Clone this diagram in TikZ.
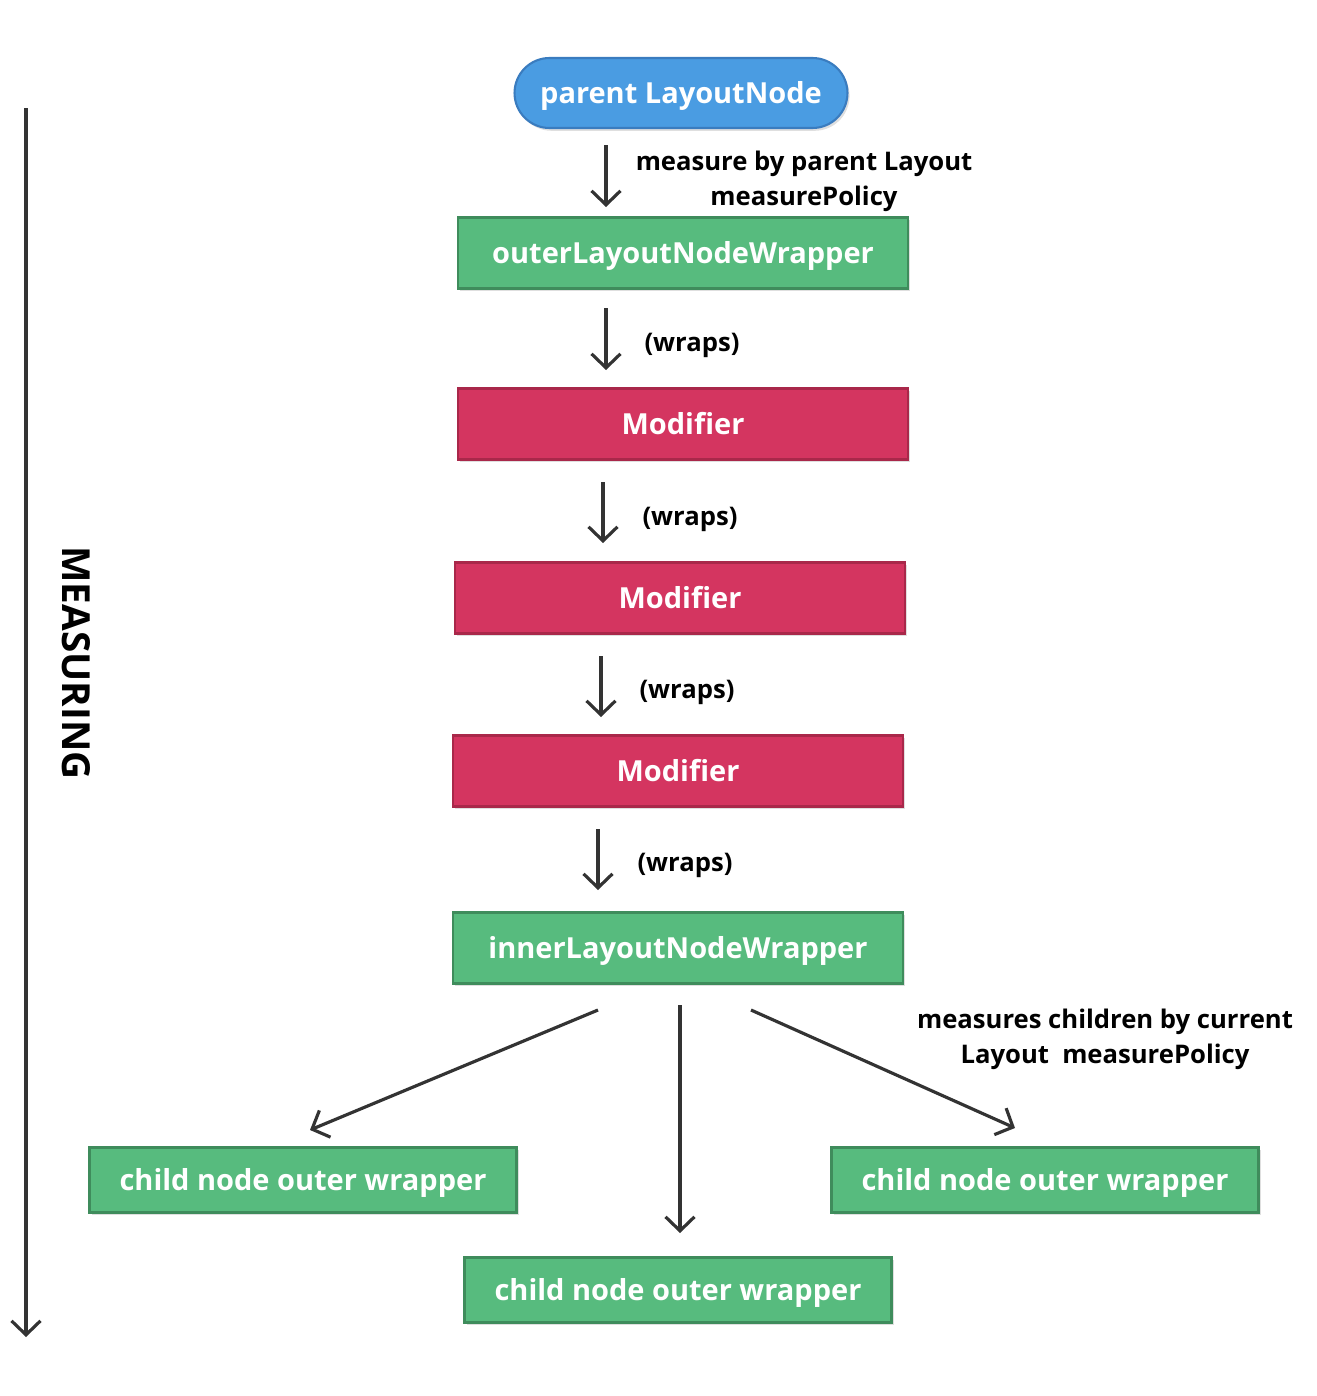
\documentclass[tikz,border=0pt]{standalone}
\usepackage{fontspec}
\setmainfont{Open Sans}
\usetikzlibrary{arrows.meta,shadows}

\definecolor{nodeblue}{HTML}{4A9CE2}
\definecolor{nodeblueline}{HTML}{3A7CBF}
\definecolor{wrapgreen}{HTML}{57BB7E}
\definecolor{wrapgreenline}{HTML}{3F8C5C}
\definecolor{modred}{HTML}{D43560}
\definecolor{modredline}{HTML}{A9284A}
\definecolor{arrowgray}{HTML}{333333}

\tikzset{
  boxbase/.style={draw,line width=1.2pt,text=white,font=\bfseries\fontsize{16.5}{20}\selectfont,
    drop shadow={shadow xshift=1.2pt,shadow yshift=-1.6pt,opacity=0.25}},
  lowtext/.style={text height=12.4pt,text depth=1pt},
  wrapbox/.style={boxbase,lowtext,fill=wrapgreen,draw=wrapgreenline,minimum width=9cm,minimum height=1.42cm},
  modbox/.style={boxbase,fill=modred,draw=modredline,minimum width=9cm,minimum height=1.42cm},
  childbox/.style={boxbase,lowtext,fill=wrapgreen,draw=wrapgreenline,minimum width=8.54cm,minimum height=1.3cm},
  pillbox/.style={boxbase,lowtext,fill=nodeblue,draw=nodeblueline,rounded corners=0.7cm,minimum width=6.66cm,minimum height=1.4cm},
  flow/.style={draw=arrowgray,line width=1.8pt,-{Straight Barb[length=2.8mm,width=5.8mm,line width=1.8pt]}},
  note/.style={font=\bfseries\fontsize{14.6}{20}\selectfont,align=center,text=black}
}

\begin{document}
\begin{tikzpicture}[x=0.02cm,y=-0.02cm]
\useasboundingbox (0,0) rectangle (1316,1396);

\node[pillbox] (parent) at (681,93) {parent LayoutNode};
\node[wrapbox] (outer) at (683,253) {outerLayoutNodeWrapper};
\node[modbox] (mod1) at (683,424) {Modifier};
\node[modbox] (mod2) at (680,598) {Modifier};
\node[modbox] (mod3) at (678,771) {Modifier};
\node[wrapbox] (inner) at (678,948) {innerLayoutNodeWrapper};
\node[childbox] (childl) at (303,1180) {child node outer wrapper};
\node[childbox] (childm) at (678,1290) {child node outer wrapper};
\node[childbox] (childr) at (1045,1180) {child node outer wrapper};

% arrows between the stack
\coordinate (a1s) at (606,145); \coordinate (a1e) at (606,207);
\coordinate (a2s) at (606,308); \coordinate (a2e) at (606,370);
\coordinate (a3s) at (603,482); \coordinate (a3e) at (603,543);
\coordinate (a4s) at (601,656); \coordinate (a4e) at (601,717);
\coordinate (a5s) at (598,829); \coordinate (a5e) at (598,890);
\draw[flow] (a1s) -- (a1e);
\draw[flow] (a2s) -- (a2e);
\draw[flow] (a3s) -- (a3e);
\draw[flow] (a4s) -- (a4e);
\draw[flow] (a5s) -- (a5e);

\node[note] (lab1) at (804,181) {measure by parent Layout\\measurePolicy};
\node[note] (lab2) at (692,345) {(wraps)};
\node[note] (lab3) at (690,519) {(wraps)};
\node[note] (lab4) at (687,692) {(wraps)};
\node[note] (lab5) at (685,865) {(wraps)};

% children
\coordinate (bl) at (598,1010); \coordinate (bm) at (680,1005); \coordinate (br) at (751,1010);
\coordinate (el) at (310,1130); \coordinate (em) at (680,1233); \coordinate (er) at (1015,1128);
\draw[flow] (bl) -- (el);
\draw[flow] (bm) -- (em);
\draw[flow] (br) -- (er);
\node[note] (lab6) at (1105,1039) {measures children by current\\Layout\ \ measurePolicy};

% measuring axis
\coordinate (mtop) at (26,108); \coordinate (mbot) at (26,1337);
\draw[flow] (mtop) -- (mbot);
\node[font=\bfseries\fontsize{22}{24}\selectfont,rotate=-90] (measuring) at (76,663) {MEASURING};
\end{tikzpicture}
\end{document}
